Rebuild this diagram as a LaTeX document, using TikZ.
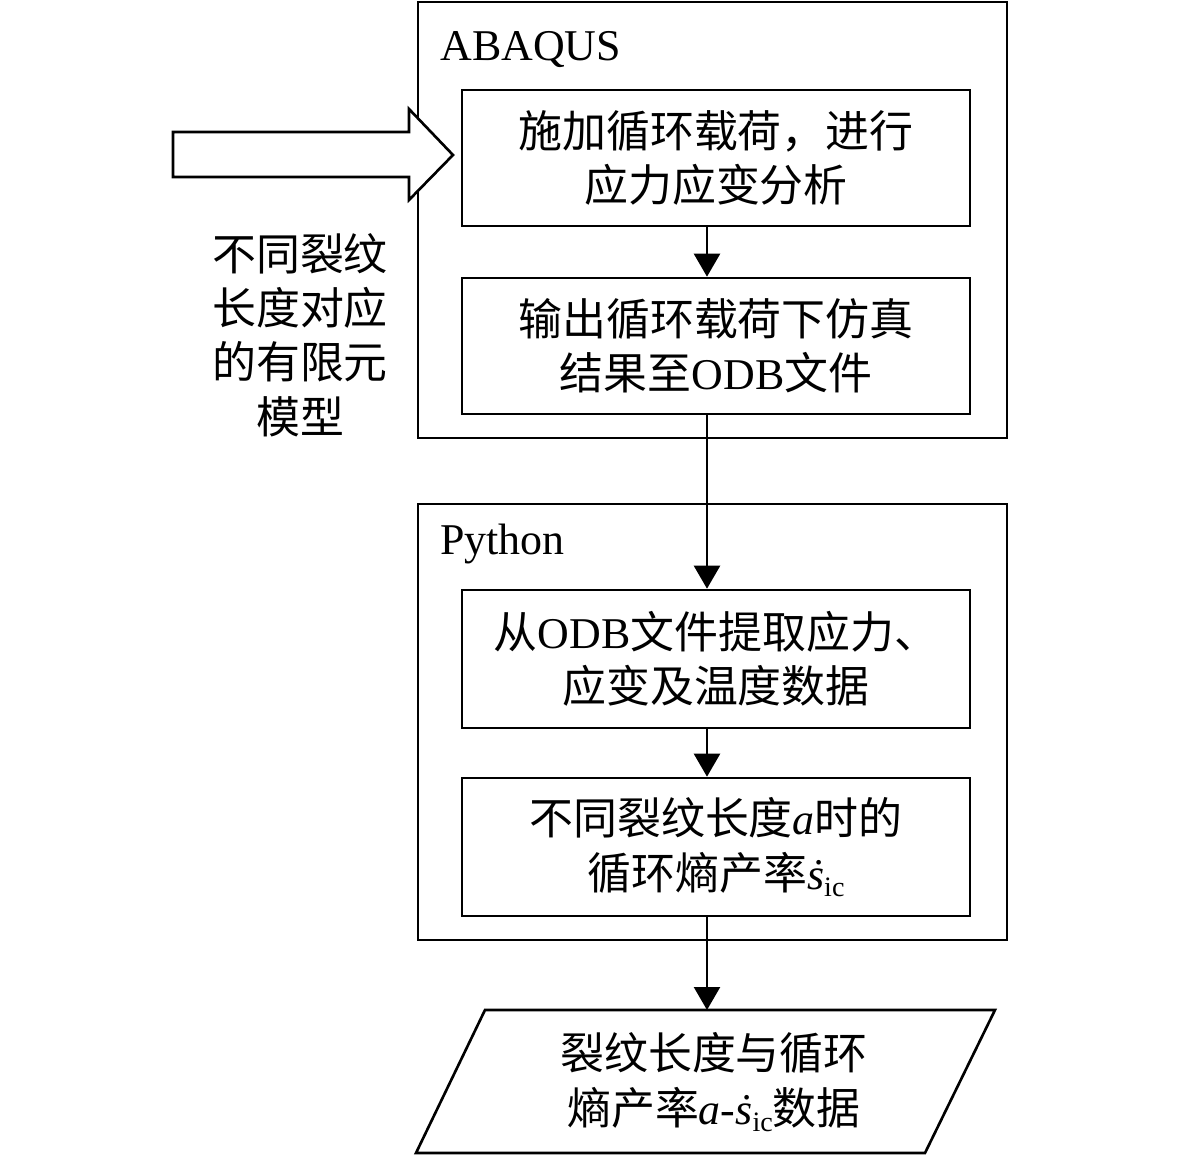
\documentclass[tikz,border=0pt]{standalone}
\usepackage{fontspec}
\setmainfont{Liberation Serif}
\newfontfamily\cjk{Noto Sans CJK SC}
\usetikzlibrary{arrows.meta}
\newcommand\zh[1]{{\cjk #1}}
\newcommand\sdotic{{\itshape \.{s}}\raisebox{-0.35ex}{\fontsize{16}{16}\selectfont ic}}
\begin{document}
\begin{tikzpicture}[x=0.02cm,y=-0.02cm,
  frame/.style={draw, line width=1.5pt, minimum width=11.78cm, minimum height=8.72cm, inner sep=0pt},
  stepbox/.style={draw, line width=1.5pt, minimum width=10.16cm, align=center, inner sep=0pt,
    font=\fontsize{25}{31}\selectfont},
  lbl/.style={anchor=base west, inner sep=0pt, font=\fontsize{25}{31}\selectfont},
  txt/.style={align=center, inner sep=0pt, font=\fontsize{25}{31}\selectfont},
  arr/.style={line width=1.4pt, -{Triangle[length=0.46cm,width=0.52cm]}},
  hollow/.style={draw, fill=white, line width=1.5pt, line join=miter}]
\useasboundingbox (0,0) rectangle (1181,1155);
% outer frames
\node[frame] (abaqus) at (712.5,220) {};
\node[frame] (python) at (712.5,722) {};
\node[lbl] (labA) at (440,61) {ABAQUS};
\node[lbl] (labP) at (440,555) {Python};
% step boxes
\node[stepbox, minimum height=2.72cm] (b1) at (716,158) {\zh{施加循环载荷，进行}\\\zh{应力应变分析}};
\node[stepbox, minimum height=2.72cm] (b2) at (716,346) {\zh{输出循环载荷下仿真}\\\zh{结果至}ODB\zh{文件}};
\node[stepbox, minimum height=2.76cm] (b3) at (716,659) {\zh{从}ODB\zh{文件提取应力、}\\\zh{应变及温度数据}};
\node[stepbox, minimum height=2.76cm] (b4) at (716,847) {\zh{不同裂纹长度}\textit{a}\zh{时的}\\\zh{循环熵产率}\sdotic};
% output parallelogram
\coordinate (pbl) at (416,1153);
\coordinate (pbr) at (925,1153);
\coordinate (ptr) at (995,1010);
\coordinate (ptl) at (485,1010);
\draw[line width=1.5pt, line join=miter] (pbl) -- (pbr) -- (ptr) -- (ptl) -- cycle;
\node[txt] (out) at (714,1082) {\zh{裂纹长度与循环}\\\zh{熵产率}\textit{a}-\sdotic\zh{数据}};
\coordinate (outtop) at (707,1010);
% connectors
\coordinate (ax) at (707,0);
\draw[arr] (b1.south -| ax) -- (b2.north -| ax);
\draw[arr] (b2.south -| ax) -- (b3.north -| ax);
\draw[arr] (b3.south -| ax) -- (b4.north -| ax);
\draw[arr] (b4.south -| ax) -- (outtop);
% input hollow arrow and its label
\draw[hollow] (173,132) -- (409,132) -- (409,109) -- (453,155) -- (409,200) -- (409,177) -- (173,177) -- cycle;
\node[txt, font=\fontsize{25}{31}\selectfont, align=center] (model) at (300,335)
  {\zh{不同裂纹}\\[-0.4pt]\zh{长度对应}\\\zh{的有限元}\\\zh{模型}};
\end{tikzpicture}
\end{document}
